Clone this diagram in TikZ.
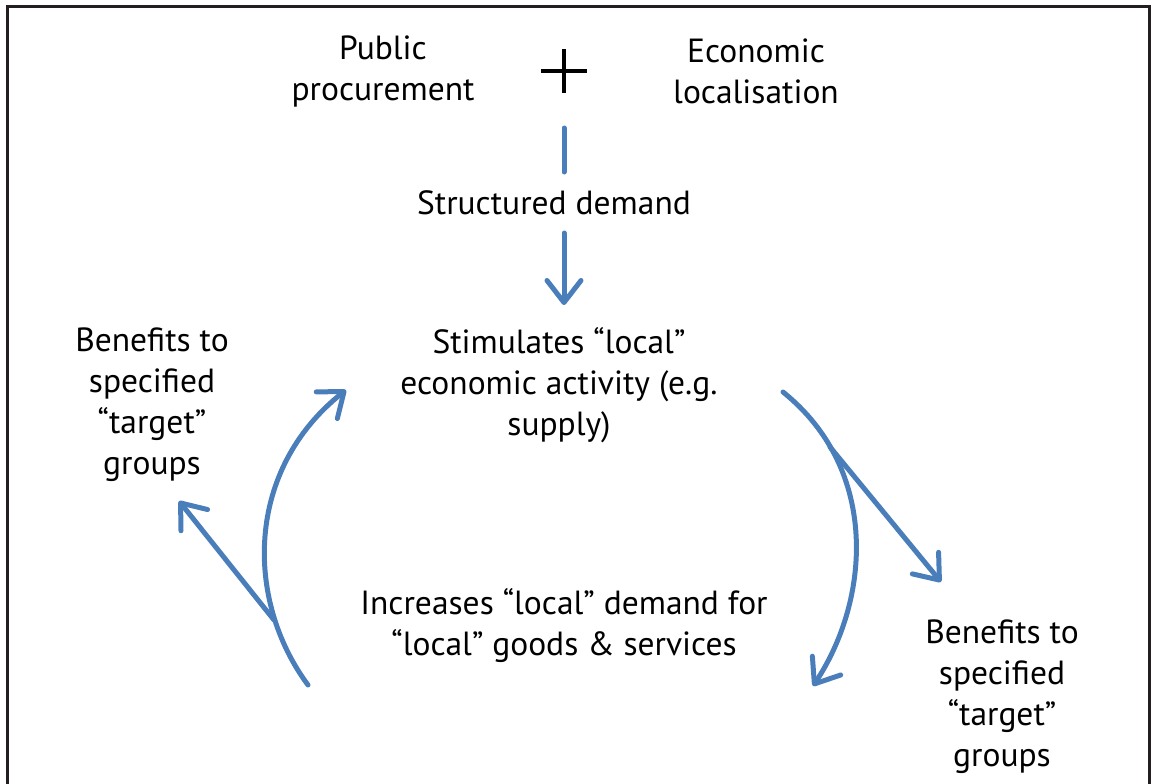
\documentclass[tikz,border=0pt]{standalone}
\usepackage{fontspec}
\setmainfont{PT Sans}
\usetikzlibrary{arrows.meta}
\definecolor{flowblue}{RGB}{74,126,187}
\definecolor{framegray}{RGB}{35,31,32}
\begin{document}
\begin{tikzpicture}[x=1pt,y=-1pt,
  lbl/.style={align=center,font=\fontsize{33.5}{41}\selectfont,inner sep=0pt},
  flow/.style={draw=flowblue,line width=5pt,line cap=round},
  flowarrow/.style={flow,-{Straight Barb[length=22pt,width=34pt,round]}}]
\useasboundingbox (0,0) rectangle (1154,784);
\draw[framegray,line width=3pt] (7,784) -- (7,7) -- (1149,7) -- (1149,784);
\node[lbl] (pp) at (383,71) {Public\\procurement};
\node[lbl] (el) at (756,71) {Economic\\localisation};
\node[inner sep=0pt,minimum width=46pt,minimum height=44pt] (plus) at (564,71) {};
\draw[black,line width=4.5pt] (plus.west) -- (plus.east) (plus.north) -- (plus.south);
\node[lbl] (sd) at (554,203) {Structured demand};
\node[lbl] (st) at (559,385) {Stimulates “local”\\economic activity (e.g.\\supply)};
\node[lbl] (inc) at (564,626) {Increases “local” demand for\\“local” goods \& services};
\node[lbl] (bl) at (152,405) {Benefits to\\specified\\“target”\\groups};
\node[lbl] (br) at (1002,697) {Benefits to\\specified\\“target”\\groups};
\coordinate (t1) at (564,128);
\coordinate (t2) at (564,172);
\coordinate (a1) at (564,233);
\coordinate (a2) at (564,305);
\draw[flow] (t1) -- (t2);
\draw[flowarrow] (a1) -- (a2);
% left loop arrow
\coordinate (ls) at (308,685);
\coordinate (le) at (346,390);
\draw[flowarrow] (ls) .. controls (245,600) and (245,470) .. (le);
\coordinate (lbs) at (274,620);
\coordinate (lbe) at (179,501);
\draw[flowarrow] (lbs) -- (lbe);
% right loop arrow
\coordinate (rs) at (783,392);
\coordinate (re) at (813,686);
\draw[flowarrow] (rs) .. controls (880,470) and (870,600) .. (re);
\coordinate (rbs) at (830,447);
\coordinate (rbe) at (941,582);
\draw[flowarrow] (rbs) -- (rbe);
\end{tikzpicture}
\end{document}
